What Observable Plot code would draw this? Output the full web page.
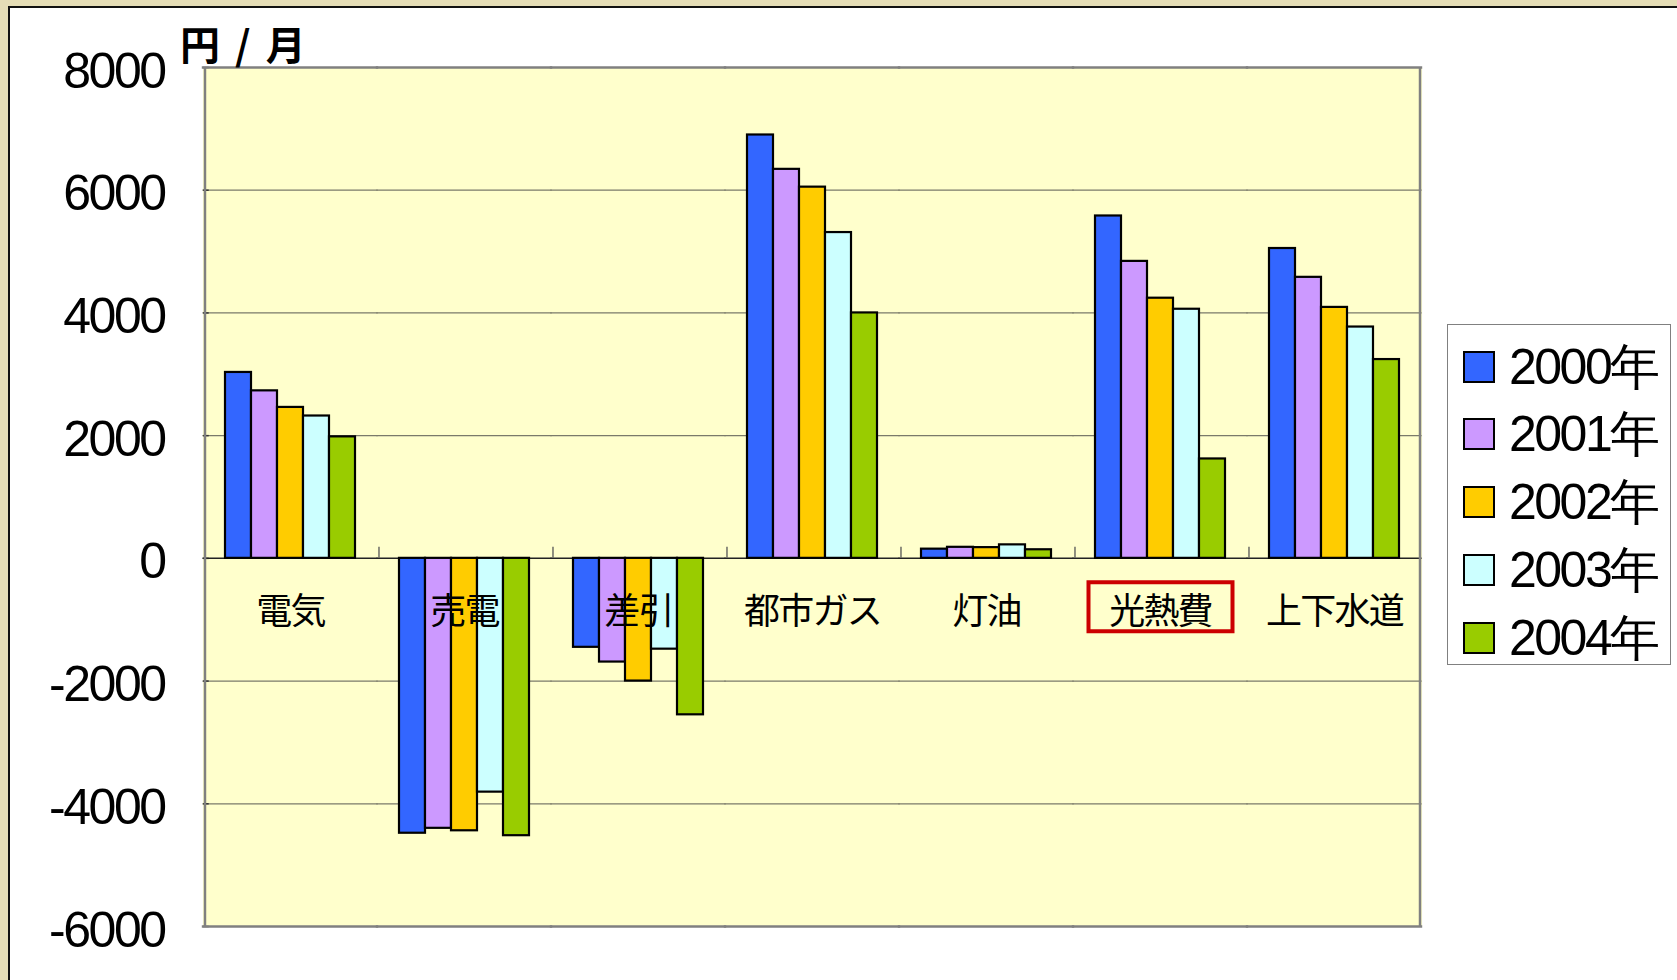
<!DOCTYPE html>
<html>
<head>
<meta charset="utf-8">
<script src="https://cdn.jsdelivr.net/npm/d3@7"></script>
<script src="https://cdn.jsdelivr.net/npm/@observablehq/plot@0.6"></script>
<style>
html, body { margin: 0; padding: 0; }
body { width: 1677px; height: 980px; overflow: hidden; position: relative;
  background: #e5ddb6; font-family: "Liberation Sans", Arial, sans-serif; }
#panel { position: absolute; left: 8px; top: 6px; width: 1690px; height: 1000px;
  background: #ffffff; border-left: 2px solid #111; border-top: 2px solid #111; }
#chart { position: absolute; left: 0; top: 0; }
#chart svg text { letter-spacing: -0.05em; }
#title { position: absolute; left: 180px; top: 23px; font: 700 40px "Noto Sans CJK JP", sans-serif;
  line-height: 1; white-space: pre; color: #000; letter-spacing: 3px; }
#legend { position: absolute; left: 1447px; top: 324px; width: 222px; height: 339px;
  border: 1.5px solid #808080; background: #fff; box-sizing: content-box; }
#legend .row { position: absolute; left: 15px; height: 34px; display: flex; align-items: center; }
#legend .sw { width: 28px; height: 28px; border: 2px solid #000; margin-right: 14px; flex: none; }
#legend .lab { font: 50px "Liberation Sans", Arial, sans-serif; line-height: 1; letter-spacing: -0.05em;
  white-space: nowrap; color: #000; }
</style>
</head>
<body>
<div id="panel"></div>
<div id="chart"></div>
<div id="title">円 / 月</div>
<div id="legend"></div>
<script>
// ---- data ----
const categories = ["電気", "売電", "差引", "都市ガス", "灯油", "光熱費", "上下水道"];
const years = ["2000年", "2001年", "2002年", "2003年", "2004年"];
const v2000 = [3030, -4480, -1450, 6900, 150, 5580, 5050];
const v2001 = [2730, -4400, -1690, 6340, 180, 4840, 4580];
const v2002 = [2460, -4440, -2000, 6050, 175, 4240, 4090];
const v2003 = [2320, -3810, -1480, 5310, 220, 4060, 3770];
const v2004 = [1980, -4520, -2550, 4000, 140, 1620, 3240];
const yearColors = ["#3366FF", "#CC99FF", "#FFCC00", "#CCFFFF", "#99CC00"];
const yTickValues = [-6000, -4000, -2000, 0, 2000, 4000, 6000, 8000];
const yTickLabels = ["-6000", "-4000", "-2000", "0", "2000", "4000", "6000", "8000"];
const gridValues = [-4000, -2000, 2000, 4000, 6000];
const yDomain = [-6000, 8000];
const highlighted = ["光熱費"];
const seriesValues = [v2000, v2001, v2002, v2003, v2004];

const rows = categories.flatMap((c, i) =>
  years.map((y, j) => ({category: c, year: y, value: seriesValues[j][i]})));

// ---- layout ----
const W = 1677, H = 980, mL = 202, mR = 255, mT = 67, mB = 54;
const outerPad = 0.75;                       // gap of 1.5 bar widths between groups
const plotW = W - mL - mR;
const step = plotW / categories.length;
const barW = step / (years.length + 2 * outerPad);
const edgeDx = barW / 2 + outerPad * barW;    // from a bar's centre to the facet edge
const first = categories[0], last = categories[categories.length - 1];

const boxSymbol = {draw(ctx) { ctx.moveTo(-72, -24.5); ctx.lineTo(72, -24.5); ctx.lineTo(72, 24.5); ctx.lineTo(-72, 24.5); ctx.closePath(); }};

const chart = Plot.plot({
  width: W, height: H,
  marginLeft: mL, marginRight: mR, marginTop: mT, marginBottom: mB,
  style: {background: "transparent", overflow: "visible"},
  fx: {domain: categories, padding: 0, axis: null, label: null},
  x: {domain: years, paddingInner: 0, paddingOuter: outerPad, align: 0.5, axis: null},
  y: {domain: yDomain, axis: null},
  color: {domain: years, range: yearColors},
  marks: [
    Plot.frame({fill: "#FFFFCC", stroke: "none", insetLeft: -0.6, insetRight: -0.6}),
    Plot.ruleY(gridValues, {stroke: "#7a7a6a", strokeWidth: 1.3, insetLeft: -0.6, insetRight: -0.6}),
    Plot.ruleY(yTickValues, {fx: () => first, stroke: "#333", strokeWidth: 1.5, insetRight: step - 6}),
    Plot.ruleY([0], {stroke: "#222", strokeWidth: 1.5, insetLeft: -0.6, insetRight: -0.6}),
    Plot.ruleX(categories.slice(1), {fx: d => d, x: () => years[0], y1: () => 0, y2: () => 180,
      dx: -edgeDx, stroke: "#555", strokeWidth: 1.3}),
    Plot.barY(rows, {fx: "category", x: "year", y: "value", fill: "year", stroke: "#000", strokeWidth: 2.2}),
    Plot.text(categories, {fx: d => d, text: d => d, y: () => 0, dy: 54, fontSize: 36,
      fontFamily: "Noto Sans CJK JP", fill: "#000"}),
    Plot.dot(highlighted, {fx: d => d, y: () => 0, dy: 48.5, symbol: boxSymbol, r: 3,
      stroke: "#cc0000", strokeWidth: 4, fill: "none"}),
    Plot.text(yTickValues, {fx: () => first, y: d => d, text: (d, i) => yTickLabels[i],
      frameAnchor: "left", textAnchor: "end", dx: -39, dy: 4, fontSize: 50,
      fontFamily: "Liberation Sans, Arial, sans-serif", fill: "#000"}),
    // plot-area border
    Plot.ruleY(yDomain, {stroke: "#808080", strokeWidth: 2.5, insetLeft: -1.2, insetRight: -1.2}),
    Plot.ruleX([first], {fx: d => d, x: () => years[0], y1: () => yDomain[0], y2: () => yDomain[1],
      dx: -edgeDx, stroke: "#808080", strokeWidth: 2.5}),
    Plot.ruleX([last], {fx: d => d, x: () => years[years.length - 1], y1: () => yDomain[0], y2: () => yDomain[1],
      dx: edgeDx, stroke: "#808080", strokeWidth: 2.5})
  ]
});
document.getElementById("chart").appendChild(chart);

// ---- legend ----
const legend = document.getElementById("legend");
years.forEach((y, j) => {
  const row = document.createElement("div");
  row.className = "row";
  row.style.top = (24.5 + j * 67.75) + "px";
  const sw = document.createElement("div");
  sw.className = "sw";
  sw.style.background = yearColors[j];
  const lab = document.createElement("div");
  lab.className = "lab";
  lab.textContent = y;
  row.appendChild(sw);
  row.appendChild(lab);
  legend.appendChild(row);
});
</script>
</body>
</html>
